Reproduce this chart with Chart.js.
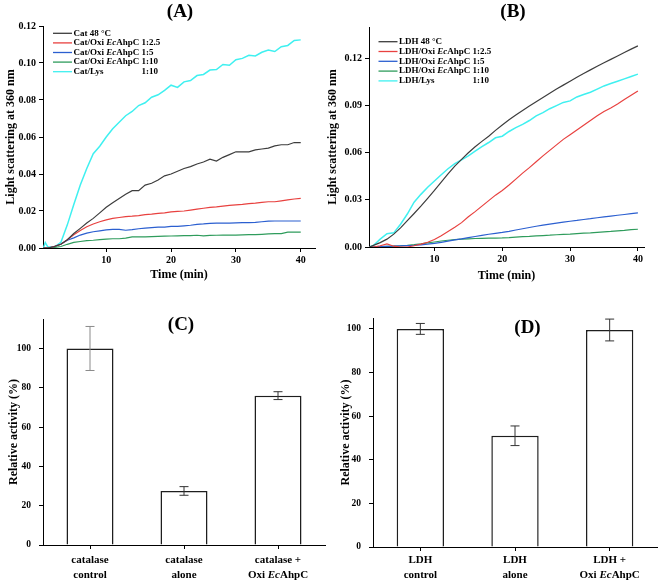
<!DOCTYPE html>
<html>
<head>
<meta charset="utf-8">
<script src="https://cdn.jsdelivr.net/npm/chart.js@4"></script>
<style>
  html, body { margin: 0; padding: 0; background: #fff; }
  #wrap { position: relative; width: 660px; height: 584px; }
  canvas { position: absolute; left: 0; top: 0; }
</style>
</head>
<body>
<div id="wrap">
  <canvas id="cA" width="660" height="584"></canvas>
  <canvas id="cB" width="660" height="584"></canvas>
  <canvas id="cC" width="660" height="584"></canvas>
  <canvas id="cD" width="660" height="584"></canvas>
</div>
<script>
// ---- panel A: catalase, light scattering ----
const timeA = [0.3, 0.6, 1, 2, 3, 4, 5, 6, 7, 8, 9, 10, 11, 12, 13, 14, 15, 16, 17, 18, 19, 20,
  21, 22, 23, 24, 25, 26, 27, 28, 29, 30, 31, 32, 33, 34, 35, 36, 37, 38, 39, 40];
const catHeat = [0, 0, 0, 0.0008, 0.002, 0.0045, 0.0078, 0.0106, 0.0135, 0.016, 0.019, 0.022, 0.0245, 0.0268,
  0.029, 0.031, 0.031, 0.034, 0.035, 0.0368, 0.039, 0.040, 0.0415, 0.043, 0.044, 0.0454, 0.0465, 0.048,
  0.047, 0.049, 0.0505, 0.052, 0.052, 0.052, 0.053, 0.0535, 0.054, 0.0552, 0.0558, 0.0558, 0.057, 0.057];
const catOxi25 = [0, 0, 0, 0.0008, 0.002, 0.0045, 0.0072, 0.0095, 0.0115, 0.013, 0.0142, 0.0152, 0.016, 0.0165,
  0.017, 0.0172, 0.0175, 0.018, 0.0183, 0.0187, 0.019, 0.0195, 0.0198, 0.020, 0.0205, 0.021, 0.0215, 0.022,
  0.0222, 0.0226, 0.023, 0.0233, 0.0236, 0.024, 0.0243, 0.0247, 0.025, 0.025, 0.0255, 0.026, 0.0265, 0.0268];
const catOxi5 = [0, 0, 0, 0.0008, 0.002, 0.0042, 0.0055, 0.007, 0.008, 0.0088, 0.0093, 0.0098, 0.0101, 0.0101,
  0.0096, 0.0099, 0.0104, 0.0107, 0.011, 0.0113, 0.0113, 0.0117, 0.0117, 0.012, 0.0123, 0.0128, 0.013, 0.0133,
  0.0134, 0.0135, 0.0135, 0.0136, 0.0137, 0.0137, 0.0139, 0.0142, 0.0145, 0.0146, 0.0146, 0.0146, 0.0146, 0.0146];
const catOxi10 = [0, 0, 0, 0.0003, 0.0008, 0.002, 0.003, 0.0035, 0.004, 0.0042, 0.0045, 0.0048, 0.005, 0.005,
  0.0053, 0.006, 0.006, 0.006, 0.0062, 0.0063, 0.0064, 0.0065, 0.0066, 0.0067, 0.0067, 0.0069, 0.0066, 0.0068,
  0.0069, 0.007, 0.007, 0.007, 0.0071, 0.0072, 0.0072, 0.0074, 0.0076, 0.0078, 0.0078, 0.0086, 0.0086, 0.0086];
const catLys = [0, 0.003, 0.0005, 0.0005, 0.003, 0.0125, 0.0235, 0.034, 0.043, 0.051, 0.055, 0.060, 0.0645, 0.068,
  0.0715, 0.0738, 0.077, 0.0785, 0.0815, 0.0828, 0.0852, 0.088, 0.0868, 0.0898, 0.0905, 0.0932, 0.0938, 0.0962,
  0.0965, 0.0992, 0.0988, 0.1018, 0.1025, 0.1042, 0.1038, 0.1058, 0.107, 0.1062, 0.1088, 0.1095, 0.1122, 0.1125];
const legendA = ['Cat 48 °C', 'Cat/Oxi *Ec*AhpC 1:2.5', 'Cat/Oxi *Ec*AhpC 1:5', 'Cat/Oxi *Ec*AhpC 1:10', 'Cat/Lys\t1:10'];
const yTicksA = [0, 0.02, 0.04, 0.06, 0.08, 0.10, 0.12];

// ---- panel B: LDH, light scattering ----
const timeB = [0.4, 1, 2, 3, 4, 5, 6, 7, 8, 9, 10, 11, 12, 13, 14, 15, 16, 17, 18, 19, 20,
  21, 22, 23, 24, 25, 26, 27, 28, 29, 30, 31, 32, 33, 34, 35, 36, 37, 38, 39, 40];
const ldhHeat = [0, 0.001, 0.0028, 0.005, 0.0082, 0.0122, 0.0168, 0.0213, 0.026, 0.031, 0.036, 0.0413, 0.0466,
  0.0515, 0.0558, 0.060, 0.0638, 0.0672, 0.0705, 0.0742, 0.0776, 0.081, 0.084, 0.0869, 0.0897, 0.0925, 0.0952,
  0.0979, 0.1005, 0.103, 0.1055, 0.108, 0.1104, 0.1127, 0.115, 0.1172, 0.1194, 0.1216, 0.1238, 0.1259, 0.128];
const ldhOxi25 = [0, 0, 0.0008, 0.002, 0.0005, 0, 0, 0.0008, 0.0018, 0.003, 0.0048, 0.0072, 0.0098, 0.0125,
  0.0155, 0.0192, 0.0225, 0.026, 0.0295, 0.033, 0.036, 0.0395, 0.0432, 0.047, 0.0505, 0.0542, 0.058, 0.0615,
  0.065, 0.0685, 0.0715, 0.0745, 0.0775, 0.0805, 0.0835, 0.0862, 0.0885, 0.091, 0.0938, 0.0965, 0.0993];
const ldhOxi5 = [0, 0, 0.0002, 0.0004, 0.0005, 0.0007, 0.0009, 0.0011, 0.0014, 0.0018, 0.0023, 0.003, 0.0037,
  0.0045, 0.0052, 0.006, 0.0067, 0.0074, 0.0081, 0.0087, 0.0093, 0.010, 0.0108, 0.0116, 0.0124, 0.0132, 0.0139,
  0.0146, 0.0152, 0.0158, 0.0164, 0.0169, 0.0175, 0.018, 0.0186, 0.0192, 0.0197, 0.0202, 0.0207, 0.0212, 0.0217];
const ldhOxi10 = [0, 0, 0.0002, 0.0004, 0.0006, 0.0008, 0.0011, 0.0015, 0.002, 0.0026, 0.0032, 0.0038, 0.0043,
  0.0047, 0.005, 0.0052, 0.0054, 0.0055, 0.0056, 0.0057, 0.0058, 0.006, 0.0063, 0.0066, 0.0068, 0.0071, 0.0073,
  0.0075, 0.0078, 0.008, 0.0082, 0.0085, 0.0088, 0.009, 0.0093, 0.0096, 0.0099, 0.0103, 0.0106, 0.011, 0.0113];
const ldhLys = [0, 0.001, 0.005, 0.0085, 0.009, 0.0145, 0.021, 0.0285, 0.0335, 0.038, 0.042, 0.046, 0.0498,
  0.053, 0.0555, 0.058, 0.061, 0.0638, 0.0665, 0.0695, 0.0705, 0.0735, 0.076, 0.078, 0.0805, 0.0835, 0.0855,
  0.088, 0.090, 0.092, 0.093, 0.0955, 0.097, 0.0985, 0.1005, 0.1025, 0.104, 0.1055, 0.107, 0.1085, 0.110];
const legendB = ['LDH 48 °C', 'LDH/Oxi *Ec*AhpC 1:2.5', 'LDH/Oxi *Ec*AhpC 1:5', 'LDH/Oxi *Ec*AhpC 1:10', 'LDH/Lys\t1:10'];
const yTicksB = [0, 0.03, 0.06, 0.09, 0.12];

const timeTicks = [10, 20, 30, 40];
const lineColors = ['#3d3d3d', '#e8413f', '#2b5fd0', '#2f9c5c', '#3ff0f0'];

// ---- panels C and D: relative activity ----
const catLabels = [['catalase', 'control'], ['catalase', 'alone'], ['catalase +', 'Oxi *Ec*AhpC']];
const catActivity = [100, 27.5, 76];
const catError = [11.2, 2.2, 2];
const ldhLabels = [['LDH', 'control'], ['LDH', 'alone'], ['LDH +', 'Oxi *Ec*AhpC']];
const ldhActivity = [100, 51, 99.5];
const ldhError = [2.5, 4.5, 5];
const activityTicks = [0, 20, 40, 60, 80, 100];

const FONT = '"Liberation Serif", "Times New Roman", serif';
Chart.defaults.font.family = FONT;
Chart.defaults.color = '#000';

// draws text where *...* parts are italic
function richText(ctx, str, x, y, size, align) {
  const parts = str.split('*');
  const fonts = parts.map((p, i) => (i % 2 ? 'italic ' : '') + 'bold ' + size + 'px ' + FONT);
  const widths = parts.map((p, i) => { ctx.font = fonts[i]; return ctx.measureText(p).width; });
  const total = widths.reduce((a, b) => a + b, 0);
  let cx = align === 'center' ? x - total / 2 : (align === 'right' ? x - total : x);
  ctx.textBaseline = 'middle';
  ctx.textAlign = 'left';
  parts.forEach((p, i) => {
    ctx.font = fonts[i];
    ctx.fillText(p, cx, y);
    cx += widths[i];
  });
  return total;
}

const deco = {
  id: 'deco',
  afterDatasetsDraw(chart, args, opts) {
    if (!opts.errors) return;
    const ctx = chart.ctx;
    const meta = chart.getDatasetMeta(0);
    const y = chart.scales.y;
    ctx.save();
    meta.data.forEach((bar, i) => {
      const v = chart.data.datasets[0].data[i];
      const yt = y.getPixelForValue(v + opts.errors[i]);
      const yb = y.getPixelForValue(v - opts.errors[i]);
      ctx.strokeStyle = opts.errorColors[i];
      ctx.lineWidth = 1;
      ctx.beginPath();
      ctx.moveTo(bar.x, yt); ctx.lineTo(bar.x, yb);
      ctx.moveTo(bar.x - 4.5, yt); ctx.lineTo(bar.x + 4.5, yt);
      ctx.moveTo(bar.x - 4.5, yb); ctx.lineTo(bar.x + 4.5, yb);
      ctx.stroke();
    });
    ctx.restore();
  },
  afterDraw(chart, args, opts) {
    const ctx = chart.ctx;
    ctx.save();
    ctx.fillStyle = '#000';
    if (opts.legend) {
      const L = opts.legend;
      let prevW = 0;
      L.labels.forEach((lab, i) => {
        const yy = L.y0 + i * L.dy;
        ctx.strokeStyle = L.colors[i];
        ctx.lineWidth = 1.3;
        ctx.beginPath();
        ctx.moveTo(L.x, yy); ctx.lineTo(L.x + L.len, yy);
        ctx.stroke();
        const tx = L.x + L.len + 1.5;
        const bits = lab.split('\t');
        let w = richText(ctx, bits[0], tx, yy, L.size, 'left');
        if (bits[1]) {
          richText(ctx, bits[1], tx + prevW, yy, L.size, 'right');
          w = prevW;
        }
        prevW = w;
      });
    }
    if (opts.catLabels) {
      const xs = chart.scales.x;
      opts.catLabels.forEach((lines, i) => {
        const px = xs.getPixelForTick(i);
        lines.forEach((ln, j) => richText(ctx, ln, px, opts.catY[j], 11, 'center'));
      });
    }
    if (opts.panel) {
      ctx.font = 'bold 19px ' + FONT;
      ctx.textAlign = 'center';
      ctx.textBaseline = 'middle';
      ctx.fillText(opts.panel.text, opts.panel.x, opts.panel.y);
    }
    ctx.restore();
  }
};

function axisGrid() {
  return { drawOnChartArea: false, drawTicks: true, tickLength: 4, color: '#000', lineWidth: 1 };
}

function lineChart(id, time, series, cfg) {
  return new Chart(document.getElementById(id), {
    type: 'line',
    data: {
      datasets: series.map((s, i) => ({
        label: cfg.legend[i].replace(/\*/g, '').replace('\t', ' '),
        data: s.map((v, k) => ({ x: time[k], y: v })),
        borderColor: lineColors[i],
        borderWidth: i === 4 ? 1.5 : 1.2,
        pointRadius: 0,
        tension: 0,
        fill: false
      }))
    },
    options: {
      responsive: false,
      animation: false,
      layout: { padding: cfg.pad },
      plugins: {
        legend: { display: false },
        tooltip: { enabled: false },
        deco: {
          legend: { labels: cfg.legend, colors: lineColors, x: cfg.legX, y0: cfg.legY, dy: cfg.legDy, len: 19, size: 9 },
          panel: cfg.panel
        }
      },
      scales: {
        x: {
          type: 'linear', min: cfg.xMin, max: cfg.xMax,
          afterBuildTicks: s => { s.ticks = timeTicks.map(v => ({ value: v })); },
          afterFit: s => { s.height = cfg.xH; },
          ticks: { font: { size: 10, weight: 'bold' }, padding: 2, maxRotation: 0 },
          grid: axisGrid(),
          border: { color: '#000', width: 1 },
          title: { display: true, text: 'Time (min)', font: { size: 12, weight: 'bold' }, padding: { top: 0, bottom: cfg.xTitlePad } }
        },
        y: {
          type: 'linear', min: 0, max: cfg.yMax,
          afterBuildTicks: s => { s.ticks = cfg.yTicks.map(v => ({ value: v })); },
          afterFit: s => { s.width = 43; },
          ticks: { font: { size: 10, weight: 'bold' }, padding: 3, callback: v => v.toFixed(2) },
          grid: axisGrid(),
          border: { color: '#000', width: 1 },
          title: { display: true, text: 'Light scattering at 360 nm', font: { size: 12, weight: 'bold' }, padding: { top: cfg.yTitlePad, bottom: 0 } }
        }
      }
    },
    plugins: [deco]
  });
}

function barChart(id, labels, values, errors, cfg) {
  return new Chart(document.getElementById(id), {
    type: 'bar',
    data: {
      labels: labels.map(l => l.join(' ').replace(/\*/g, '')),
      datasets: [{
        data: values,
        backgroundColor: '#fff',
        borderColor: '#1e1e1e',
        borderWidth: 1.5,
        barPercentage: 0.5,
        categoryPercentage: 1
      }]
    },
    options: {
      responsive: false,
      animation: false,
      layout: { padding: cfg.pad },
      plugins: {
        legend: { display: false },
        tooltip: { enabled: false },
        deco: { errors: errors, errorColors: cfg.errorColors, catLabels: labels, catY: cfg.catY, panel: cfg.panel }
      },
      scales: {
        x: {
          type: 'category',
          afterFit: s => { s.height = cfg.xH; },
          ticks: { display: false },
          grid: Object.assign(axisGrid(), { offset: false }),
          border: { color: '#000', width: 1 }
        },
        y: {
          type: 'linear', min: 0, max: cfg.yMax,
          afterBuildTicks: s => { s.ticks = activityTicks.map(v => ({ value: v })); },
          afterFit: s => { s.width = 43; },
          ticks: { font: { size: 9.5, weight: 'bold' }, padding: 8 },
          grid: axisGrid(),
          border: { color: '#000', width: 1 },
          title: { display: true, text: 'Relative activity (%)', font: { size: 12, weight: 'bold' }, padding: { top: cfg.yTitlePad, bottom: 0 } }
        }
      }
    },
    plugins: [deco]
  });
}

lineChart('cA', timeA, [catHeat, catOxi25, catOxi5, catOxi10, catLys], {
  legend: legendA, yTicks: yTicksA, yMax: 0.12, xMin: 0.25, xMax: 42.2,
  pad: { left: 0, top: 26, right: 345, bottom: 292 }, xH: 44, xTitlePad: 10, yTitlePad: 4,
  legX: 53, legY: 33.3, legDy: 9.6, panel: { text: '(A)', x: 180, y: 12 }
});

lineChart('cB', timeB, [ldhHeat, ldhOxi25, ldhOxi5, ldhOxi10, ldhLys], {
  legend: legendB, yTicks: yTicksB, yMax: 0.14, xMin: 0.35, xMax: 40.9,
  pad: { left: 326, top: 27, right: 16, bottom: 292 }, xH: 45, xTitlePad: 9, yTitlePad: 0,
  legX: 378.5, legY: 41.7, legDy: 9.8, panel: { text: '(B)', x: 513, y: 12 }
});

barChart('cC', catLabels, catActivity, catError, {
  yMax: 115, pad: { left: 0, top: 319, right: 335, bottom: 0 }, xH: 39, yTitlePad: 7,
  errorColors: ['#8a8a8a', '#333', '#333'], catY: [559.7, 574.7], panel: { text: '(C)', x: 181, y: 325 }
});

barChart('cD', ldhLabels, ldhActivity, ldhError, {
  yMax: 105, pad: { left: 330, top: 318, right: 3, bottom: 0 }, xH: 37, yTitlePad: 9,
  errorColors: ['#333', '#333', '#333'], catY: [560.3, 575.3], panel: { text: '(D)', x: 527.5, y: 328.5 }
});
</script>
</body>
</html>
